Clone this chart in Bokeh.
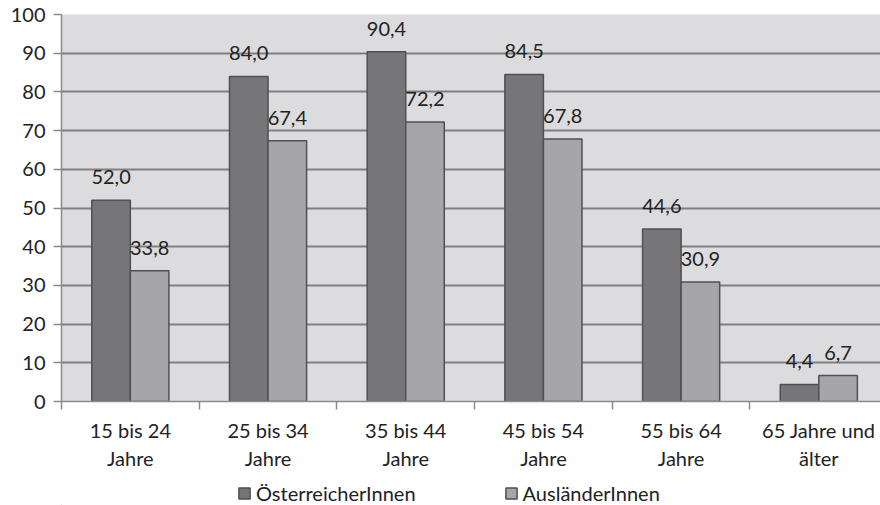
from bokeh.plotting import figure
from bokeh.layouts import column
from bokeh.models import ColumnDataSource, FixedTicker, Range1d, Legend, LegendItem
from bokeh.core.properties import value
from bokeh.embed import file_html
from bokeh.resources import INLINE
import numpy as np

categories = ["15 bis 24\nJahre", "25 bis 34\nJahre", "35 bis 44\nJahre",
              "45 bis 54\nJahre", "55 bis 64\nJahre", "65 Jahre und\nälter"]
oesterreicher = [52.0, 84.0, 90.4, 84.5, 44.6, 4.4]
auslaender = [33.8, 67.4, 72.2, 67.8, 30.9, 6.7]
series_names = ["ÖsterreicherInnen", "AusländerInnen"]
y_ticks = list(range(0, 101, 10))

FONT = "Lato"
FS = "20px"
TXT = "#222222"
C1, C2, EDGE = "#767679", "#a6a6a9", "#505050"
centers = np.arange(len(categories)) + 0.5
off = 0.14
bw = 0.28

def fmt(v):
    return f"{v:.1f}".replace(".", ",")

src1 = ColumnDataSource(dict(x=centers - off, top=oesterreicher, lab=[fmt(v) for v in oesterreicher]))
src2 = ColumnDataSource(dict(x=centers + off, top=auslaender, lab=[fmt(v) for v in auslaender]))

p = figure(width=880, height=475, output_backend="svg", toolbar_location=None,
           x_range=Range1d(0, 5.948), y_range=Range1d(0, 100),
           min_border_left=61, min_border_right=0, min_border_top=14, min_border_bottom=74)
p.outline_line_color = None
p.background_fill_color = "#dcdcde"
p.border_fill_color = "white"

p.vbar(x="x", top="top", width=bw, source=src1, fill_color=C1, line_color=EDGE, line_width=1.5)
p.vbar(x="x", top="top", width=bw, source=src2, fill_color=C2, line_color=EDGE, line_width=1.5)

for s in (src1, src2):
    p.text(x="x", y="top", text="lab", source=s, text_align="center",
           text_baseline="bottom", y_offset=-16, text_font=value(FONT),
           text_font_size=FS, text_color=TXT)

p.xgrid.grid_line_color = None
p.ygrid.grid_line_color = "#808080"
p.ygrid.grid_line_width = 2
p.ygrid.ticker = FixedTicker(ticks=y_ticks)

p.yaxis.ticker = FixedTicker(ticks=y_ticks)
p.yaxis.axis_line_color = "#8a8a8a"
p.yaxis.axis_line_width = 1.5
p.yaxis.major_tick_line_color = "#8a8a8a"
p.yaxis.major_tick_line_width = 1.5
p.yaxis.major_tick_out = 8
p.yaxis.major_tick_in = 0
p.yaxis.minor_tick_line_color = None
p.yaxis.major_label_text_font = FONT
p.yaxis.major_label_text_font_size = FS
p.yaxis.major_label_text_color = TXT
p.yaxis.major_label_standoff = 8

p.xaxis.ticker = FixedTicker(ticks=list(centers), minor_ticks=list(range(len(categories) + 1)))
p.xaxis.major_label_overrides = {float(c): lab for c, lab in zip(centers, categories)}
p.xaxis.axis_line_color = "#8a8a8a"
p.xaxis.axis_line_width = 1.5
p.xaxis.major_tick_line_color = None
p.xaxis.minor_tick_line_color = "#8a8a8a"
p.xaxis.minor_tick_line_width = 1.5
p.xaxis.minor_tick_out = 8
p.xaxis.minor_tick_in = 0
p.xaxis.major_label_text_font = FONT
p.xaxis.major_label_text_font_size = FS
p.xaxis.major_label_text_color = TXT
p.xaxis.major_label_standoff = 8

# legend strip below the chart
lg = figure(width=880, height=30, output_backend="svg", toolbar_location=None,
            x_range=Range1d(0, 1), y_range=Range1d(0, 1),
            x_axis_location=None, y_axis_location=None,
            min_border=0, outline_line_color=None)
lg.grid.visible = False
g1 = lg.vbar(x=[-5], top=[-5], width=0.1, fill_color=C1, line_color=EDGE, line_width=1.5)
g2 = lg.vbar(x=[-5], top=[-5], width=0.1, fill_color=C2, line_color=EDGE, line_width=1.5)
legend = Legend(items=[LegendItem(label=series_names[0], renderers=[g1]),
                       LegendItem(label=series_names[1], renderers=[g2])],
                orientation="horizontal", location=(176, 0),
                label_text_font=FONT, label_text_font_size=FS,
                label_text_color=TXT, glyph_width=14, glyph_height=14,
                spacing=88, label_standoff=5, padding=0, margin=0,
                border_line_color=None, background_fill_alpha=0)
lg.add_layout(legend)

layout = column(p, lg, spacing=0)
open("out.html", "w").write(file_html(layout, INLINE))
